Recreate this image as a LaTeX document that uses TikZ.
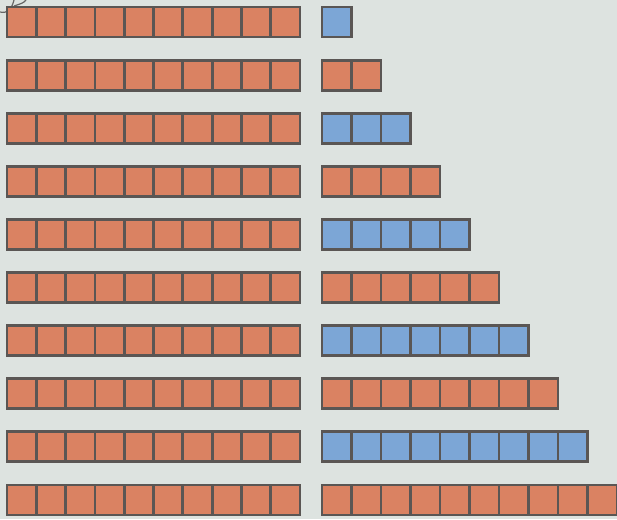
\documentclass[tikz,border=0pt]{standalone}
\usetikzlibrary{positioning}
\definecolor{bg}{RGB}{221,227,224}
\definecolor{brick}{RGB}{218,130,98}
\definecolor{sky}{RGB}{124,166,214}
\definecolor{edge}{RGB}{90,86,84}
\tikzset{
  cell/.style={draw=edge, line width=2.1pt, inner sep=0pt, minimum height=30*0.75pt},
  lcell/.style={cell, fill=brick, minimum width=29.3*0.75pt},
  rcell/.style={cell, minimum width=29.5*0.75pt},
  scribble/.style={draw=gray!80!black, line width=0.9pt},
}
\begin{document}
\begin{tikzpicture}[x=0.75pt,y=-0.75pt]
\fill[bg] (0,0) rectangle (617,519);
\useasboundingbox (0,0) rectangle (617,519);
\draw[scribble] (0,12) .. controls (8,14) and (12,8) .. (14,0);
\draw[scribble] (14,6) .. controls (20,4) and (24,3) .. (26,0);
\foreach \r in {1,...,10}{
  \pgfmathsetmacro{\yc}{7+(\r-1)*53.1+15}
  \foreach \c in {1,...,10}{
    \pgfmathsetmacro{\xc}{7+(\c-1)*29.3+14.65}
    \node[lcell] (L-\r-\c) at (\xc,\yc) {};
  }
  \pgfmathtruncatemacro{\odd}{mod(\r,2)}
  \ifnum\odd=1 \def\fc{sky}\else\def\fc{brick}\fi
  \foreach \c in {1,...,\r}{
    \pgfmathsetmacro{\xc}{322+(\c-1)*29.5+14.75}
    \node[rcell, fill=\fc] (R-\r-\c) at (\xc,\yc) {};
  }
}
\end{tikzpicture}
\end{document}
